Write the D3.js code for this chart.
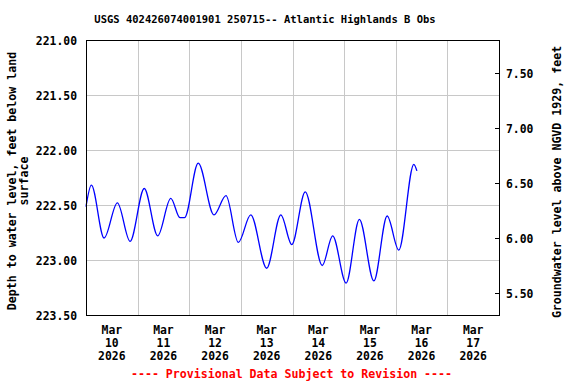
<!DOCTYPE html>
<html>
<head>
<meta charset="utf-8">
<script src="https://cdn.jsdelivr.net/npm/d3@7"></script>
<style>
  html, body { margin: 0; padding: 0; background: #fff; }
  svg text { font-family: "DejaVu Sans Mono", "Liberation Mono", monospace; font-weight: bold; }
</style>
</head>
<body>
<svg id="chart" width="576" height="384"></svg>
<script>
// ---- data ----
const times = [
  "2026-03-10 00:00", "2026-03-10 02:30", "2026-03-10 08:25", "2026-03-10 14:35",
  "2026-03-10 20:30", "2026-03-11 03:05", "2026-03-11 09:20", "2026-03-11 15:25",
  "2026-03-11 19:40", "2026-03-11 21:50", "2026-03-12 04:10", "2026-03-12 11:30",
  "2026-03-12 17:05", "2026-03-12 22:50", "2026-03-13 04:35", "2026-03-13 12:00",
  "2026-03-13 18:35", "2026-03-13 23:40", "2026-03-14 05:55", "2026-03-14 13:50",
  "2026-03-14 18:40", "2026-03-15 00:55", "2026-03-15 07:05", "2026-03-15 13:50",
  "2026-03-15 20:00", "2026-03-16 01:25", "2026-03-16 08:25", "2026-03-16 09:50"
];
const depths = [
  222.515, 222.32, 222.80, 222.48,
  222.83, 222.35, 222.78, 222.44,
  222.615, 222.615, 222.12, 222.59,
  222.415, 222.84, 222.59, 223.075,
  222.59, 222.86, 222.38, 223.05,
  222.78, 223.21, 222.63, 223.19,
  222.60, 222.91, 222.13, 222.19
];
const leftTicks = [221.0, 221.5, 222.0, 222.5, 223.0, 223.5];
const rightTicks = [7.5, 7.0, 6.5, 6.0, 5.5];
const landSurface = 228.8;
const dayTicks = ["2026-03-10", "2026-03-11", "2026-03-12", "2026-03-13",
                  "2026-03-14", "2026-03-15", "2026-03-16", "2026-03-17"];
const titleText = "USGS 402426074001901 250715-- Atlantic Highlands B Obs";
const leftTitle = ["Depth to water level, feet below land", "surface"];
const rightTitle = "Groundwater level above NGVD 1929, feet";
const footer = "---- Provisional Data Subject to Revision ----";

// ---- layout ----
const L = 86, R = 499, T = 40, B = 315;
const parseT = d3.timeParse("%Y-%m-%d %H:%M");
const parseD = d3.timeParse("%Y-%m-%d");
const svg = d3.select("#chart");

const x = d3.scaleTime()
  .domain([parseD("2026-03-10"), parseD("2026-03-18")])
  .range([L, R]);
const y = d3.scaleLinear().domain([221.0, 223.5]).range([T, B]);
const yR = d3.scaleLinear().domain([landSurface - 221.0, landSurface - 223.5]).range([T, B]);

// grid
const gridColor = "#c8c8c8";
svg.append("g").selectAll("line").data(leftTicks.slice(1, -1)).join("line")
  .attr("x1", L).attr("x2", R)
  .attr("y1", d => Math.round(y(d)) + 0.5).attr("y2", d => Math.round(y(d)) + 0.5)
  .attr("stroke", gridColor).attr("stroke-width", 1);
const midnights = d3.timeDay.range(parseD("2026-03-11"), parseD("2026-03-18"));
svg.append("g").selectAll("line").data(midnights).join("line")
  .attr("x1", d => Math.round(x(d)) + 0.5).attr("x2", d => Math.round(x(d)) + 0.5)
  .attr("y1", T).attr("y2", B)
  .attr("stroke", gridColor).attr("stroke-width", 1);

// data line
const pts = times.map((t, i) => ({ t: parseT(t), d: depths[i] }));
svg.append("path")
  .datum(pts)
  .attr("fill", "none")
  .attr("stroke", "#0000ff")
  .attr("stroke-width", 1.3)
  .attr("d", d3.line().x(p => x(p.t)).y(p => y(p.d)).curve(d3.curveMonotoneX));

// frame
svg.append("rect")
  .attr("x", L + 0.5).attr("y", T + 0.5)
  .attr("width", R - L).attr("height", B - T)
  .attr("fill", "none").attr("stroke", "#000").attr("stroke-width", 1);

// left tick labels
const fmt = d3.format(".2f");
svg.append("g").selectAll("text").data(leftTicks).join("text")
  .attr("x", 77).attr("y", d => y(d) + 1)
  .attr("text-anchor", "end").attr("dominant-baseline", "middle")
  .attr("font-size", 11.4).attr("fill", "#000")
  .text(d => fmt(d));

// right ticks + labels
svg.append("g").selectAll("line").data(rightTicks).join("line")
  .attr("x1", R - 4).attr("x2", R)
  .attr("y1", d => Math.round(yR(d)) + 0.5).attr("y2", d => Math.round(yR(d)) + 0.5)
  .attr("stroke", "#000");
svg.append("g").selectAll("text").data(rightTicks).join("text")
  .attr("x", 506).attr("y", d => yR(d) + 1)
  .attr("text-anchor", "start").attr("dominant-baseline", "middle")
  .attr("font-size", 11.4).attr("fill", "#000")
  .text(d => fmt(d));

// x labels
const fmtMon = d3.timeFormat("%b"), fmtDay = d3.timeFormat("%-d"), fmtYr = d3.timeFormat("%Y");
const xl = svg.append("g").selectAll("g").data(dayTicks.map(parseD)).join("g")
  .attr("transform", d => `translate(${x(d3.timeHour.offset(d, 12))},0)`);
[[fmtMon, 330], [fmtDay, 343], [fmtYr, 356]].forEach(([f, yy]) => {
  xl.append("text").attr("x", 0).attr("y", yy)
    .attr("text-anchor", "middle").attr("dominant-baseline", "middle")
    .attr("font-size", 11.4).attr("fill", "#000")
    .text(d => f(d));
});

// title
svg.append("text").attr("x", 265).attr("y", 20)
  .attr("text-anchor", "middle").attr("dominant-baseline", "middle")
  .attr("font-size", 10.5).attr("fill", "#000").text(titleText);

// left axis title
leftTitle.forEach((s, i) => {
  svg.append("text")
    .attr("transform", `translate(${12 + i * 12},181) rotate(-90)`)
    .attr("text-anchor", "middle").attr("dominant-baseline", "middle")
    .attr("font-size", 11.6).attr("fill", "#000").text(s);
});

// right axis title
svg.append("text")
  .attr("transform", `translate(557,182) rotate(-90)`)
  .attr("text-anchor", "middle").attr("dominant-baseline", "middle")
  .attr("font-size", 11.6).attr("fill", "#000").text(rightTitle);

// footer
svg.append("text").attr("x", 291.5).attr("y", 374)
  .attr("text-anchor", "middle").attr("dominant-baseline", "middle")
  .attr("font-size", 11.6).attr("fill", "#ff0000").text(footer);
</script>
</body>
</html>
